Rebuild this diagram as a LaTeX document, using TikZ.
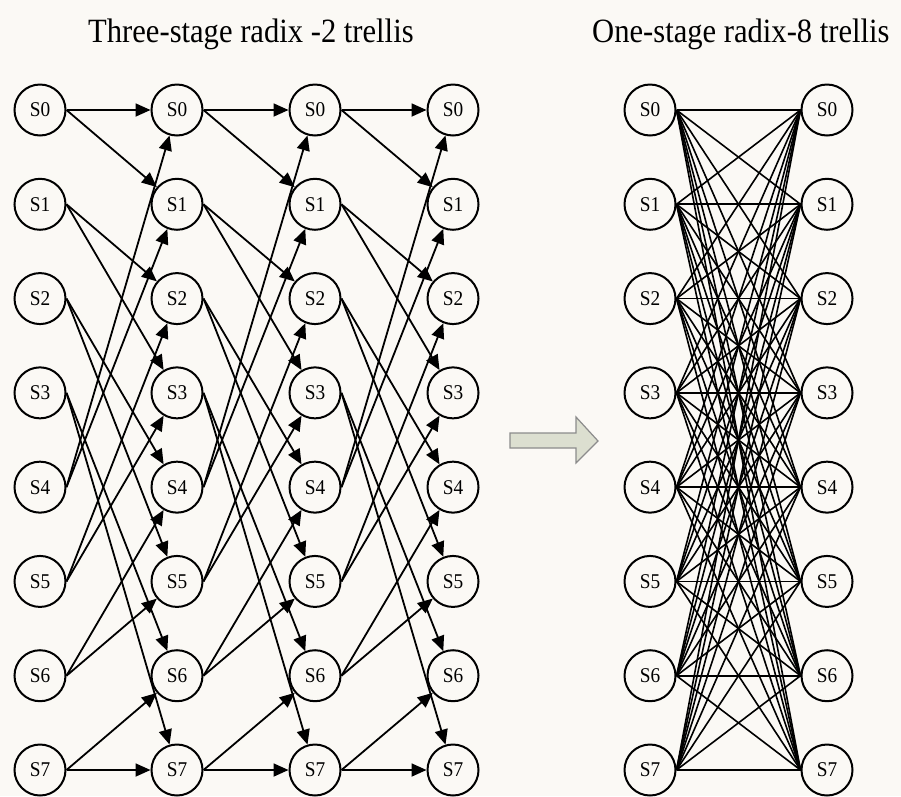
\documentclass[tikz,border=0pt]{standalone}
\usepackage{fontspec}
\setmainfont{Liberation Serif}
\usetikzlibrary{arrows.meta}
\definecolor{bgc}{RGB}{251,249,245}
\definecolor{arrowfill}{RGB}{220,223,208}
\definecolor{arrowdraw}{RGB}{140,140,140}
\begin{document}
\begin{tikzpicture}[x=1pt,y=-1pt,
  state/.style={circle,draw,line width=2pt,minimum size=51pt,inner sep=0pt,fill=bgc,
    font=\fontsize{21}{21}\selectfont},
  edge/.style={line width=1.8pt,-{Triangle[length=15pt,width=13pt]}},
  full/.style={line width=1.6pt},
  ttl/.style={anchor=base west,inner sep=0pt,font=\fontsize{34}{34}\selectfont}]
\fill[bgc] (0,0) rectangle (901,796);
\useasboundingbox (0,0) rectangle (901,796);
% titles
\node[ttl] (t1) at (88,42) {\scalebox{0.9}[1]{Three-stage radix -2 trellis}};
\node[ttl] (t2) at (592,42) {\scalebox{0.9}[1]{One-stage radix-8 trellis}};
% left trellis nodes
\foreach \c/\x in {1/40,2/177,3/315,4/453}
  \foreach \r in {0,...,7}
    \node[state] (L\c-\r) at (\x,{110+\r*94.2857}) {\scalebox{0.92}[1]{S\r}};
% right trellis nodes
\foreach \r in {0,...,7}{
  \node[state] (R1-\r) at (650,{110+\r*94.2857}) {\scalebox{0.92}[1]{S\r}};
  \node[state] (R2-\r) at (827,{110+\r*94.2857}) {\scalebox{0.92}[1]{S\r}};
}
% left trellis edges
\foreach \c in {1,2,3}
  \foreach \r in {0,...,7}{
    \pgfmathtruncatemacro{\d}{\c+1}
    \pgfmathtruncatemacro{\a}{mod(2*\r,8)}
    \pgfmathtruncatemacro{\b}{mod(2*\r+1,8)}
    \draw[edge] (L\c-\r.east) -- (L\d-\a);
    \draw[edge] (L\c-\r.east) -- (L\d-\b);
  }
% right trellis edges
\foreach \i in {0,...,7}
  \foreach \j in {0,...,7}
    \draw[full] (R1-\i.east) -- (R2-\j.west);
% big gray arrow
\draw[fill=arrowfill,draw=arrowdraw,line width=1.2pt]
  (510,433) -- (576,433) -- (576,417) -- (598,441) -- (576,463) -- (576,448) -- (510,448) -- cycle;
\end{tikzpicture}
\end{document}
